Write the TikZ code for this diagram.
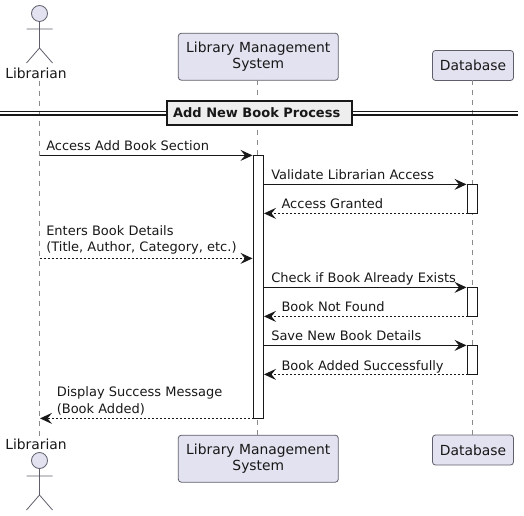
\documentclass[tikz,border=0pt]{standalone}
\usepackage{fontspec}
\setmainfont{DejaVu Sans}
\usetikzlibrary{arrows.meta}
\definecolor{pfill}{HTML}{E2E2F0}
\definecolor{pline}{HTML}{5F5F6B}
\definecolor{lifeln}{HTML}{8A8A8A}
\definecolor{ink}{HTML}{181818}
\definecolor{divfill}{HTML}{EEEEEE}
\tikzset{
  partbox/.style={draw=pline,fill=pfill,rounded corners=2.25pt,line width=.6pt,inner sep=0pt,align=center,font=\fontsize{10.4pt}{12.2pt}\selectfont,text=ink},
  actorlabel/.style={inner sep=0pt,font=\fontsize{10.4pt}{12.2pt}\selectfont,text=ink},
  actorline/.style={draw=pline,line width=.6pt},
  lifeline/.style={draw=lifeln,line width=.6pt,dash pattern=on 3.75pt off 3.75pt},
  activation/.style={draw=ink,fill=white,line width=.8pt,inner sep=0pt,minimum width=7.5pt},
  msg/.style={draw=ink,line width=.8pt,-{Stealth[length=9pt,width=8.25pt,inset=3.4pt]}},
  reply/.style={msg,dash pattern=on 1.5pt off 1.5pt},
  msgtext/.style={inner sep=0pt,anchor=base west,align=left,font=\fontsize{9.75pt}{12.2pt}\selectfont,text=ink},
  divbox/.style={draw=ink,fill=divfill,line width=1.5pt,inner sep=0pt,font=\bfseries\fontsize{9.75pt}{12pt}\selectfont,text=ink},
  divline/.style={draw=ink,line width=.9pt}
}
\begin{document}
\begin{tikzpicture}[x=0.75pt,y=-0.75pt]
\useasboundingbox (0,0) rectangle (524,516);
% participants
\node[actorlabel] (libT) at (36,73) {Librarian};
\node[actorlabel] (libB) at (36,444) {Librarian};
\node[partbox,minimum width=120pt,minimum height=35.25pt] (lmsT) at (258.3,56.7) {Library Management\\System};
\node[partbox,minimum width=120pt,minimum height=35.25pt] (lmsB) at (258.3,458.7) {Library Management\\System};
\node[partbox,minimum width=60.75pt,minimum height=22.5pt] (dbT) at (473,65.5) {Database};
\node[partbox,minimum width=60.75pt,minimum height=22.5pt] (dbB) at (473,450) {Database};
% lifeline ends
\coordinate (l1t) at (39.5,81); \coordinate (l1b) at (39.5,436);
\coordinate (l2t) at (257.5,80); \coordinate (l2b) at (257.5,435);
\coordinate (l3t) at (472.5,80); \coordinate (l3b) at (472.5,435);
\draw[lifeline] (l1t) -- (l1b);
\draw[lifeline] (l2t) -- (l2b);
\draw[lifeline] (l3t) -- (l3b);
% actors
\node[circle,draw=pline,fill=pfill,line width=.6pt,minimum size=12pt,inner sep=0pt] (headT) at (39.5,13.5) {};
\coordinate (hipT) at (39.5,48); \coordinate (armLT) at (26.5,29); \coordinate (armRT) at (52.5,29);
\coordinate (legLT) at (26.5,63); \coordinate (legRT) at (52.5,63);
\draw[actorline] (headT.south) -- (hipT) (armLT) -- (armRT) (legLT) -- (hipT) -- (legRT);
\node[circle,draw=pline,fill=pfill,line width=.6pt,minimum size=12pt,inner sep=0pt] (headB) at (39.5,460.5) {};
\coordinate (hipB) at (39.5,495); \coordinate (armLB) at (26.5,476); \coordinate (armRB) at (52.5,476);
\coordinate (legLB) at (26.5,510); \coordinate (legRB) at (52.5,510);
\draw[actorline] (headB.south) -- (hipB) (armLB) -- (armRB) (legLB) -- (hipB) -- (legRB);
% divider
\coordinate (d1l) at (0,111.5); \coordinate (d1r) at (518,111.5);
\coordinate (d2l) at (0,115); \coordinate (d2r) at (518,115);
\draw[divline] (d1l) -- (d1r) (d2l) -- (d2r);
\node[divbox,minimum width=138.75pt,minimum height=18pt] (div) at (259,112.9) {Add New Book Process\kern3.5pt\null};
% activations
\node[activation,minimum height=197.25pt] (act) at (258.5,287) {};
\node[activation,minimum height=21.75pt] (d1) at (472.5,199) {};
\node[activation,minimum height=21.75pt] (d2) at (472.5,302) {};
\node[activation,minimum height=21.75pt] (d3) at (472.5,360) {};
% message end points
\coordinate (m1a) at (39.5,155.4); \coordinate (m1b) at (252.5,155.4);
\coordinate (m2a) at (263.5,184.4); \coordinate (m2b) at (466.5,184.4);
\coordinate (m3a) at (467.5,213.4); \coordinate (m3b) at (264,213.4);
\coordinate (m4a) at (39.5,258.4); \coordinate (m4b) at (252.5,258.4);
\coordinate (m5a) at (263.5,287.4); \coordinate (m5b) at (466.5,287.4);
\coordinate (m6a) at (467.5,316.4); \coordinate (m6b) at (264,316.4);
\coordinate (m7a) at (263.5,345.4); \coordinate (m7b) at (466.5,345.4);
\coordinate (m8a) at (467.5,374.4); \coordinate (m8b) at (264,374.4);
\coordinate (m9a) at (253.5,418.4); \coordinate (m9b) at (40,418.4);
\draw[msg] (m1a) -- (m1b);
\draw[msg] (m2a) -- (m2b);
\draw[reply] (m3a) -- (m3b);
\draw[reply] (m4a) -- (m4b);
\draw[msg] (m5a) -- (m5b);
\draw[reply] (m6a) -- (m6b);
\draw[msg] (m7a) -- (m7b);
\draw[reply] (m8a) -- (m8b);
\draw[reply] (m9a) -- (m9b);
% message labels
\node[msgtext] (t1) at (46,150.5) {Access Add Book Section};
\node[msgtext] (t2) at (271,180) {Validate Librarian Access};
\node[msgtext] (t3) at (281.3,209) {Access Granted};
\node[msgtext,anchor=south west] (t4) at (46,254.5) {Enters Book Details\\(Title, Author, Category, etc.)};
\node[msgtext] (t5) at (271,283) {Check if Book Already Exists};
\node[msgtext] (t6) at (281.3,311.5) {Book Not Found};
\node[msgtext] (t7) at (271,340.5) {Save New Book Details};
\node[msgtext] (t8) at (281.3,370) {Book Added Successfully};
\node[msgtext,anchor=south west] (t9) at (56.5,415) {Display Success Message\\(Book Added)};
\end{tikzpicture}
\end{document}
